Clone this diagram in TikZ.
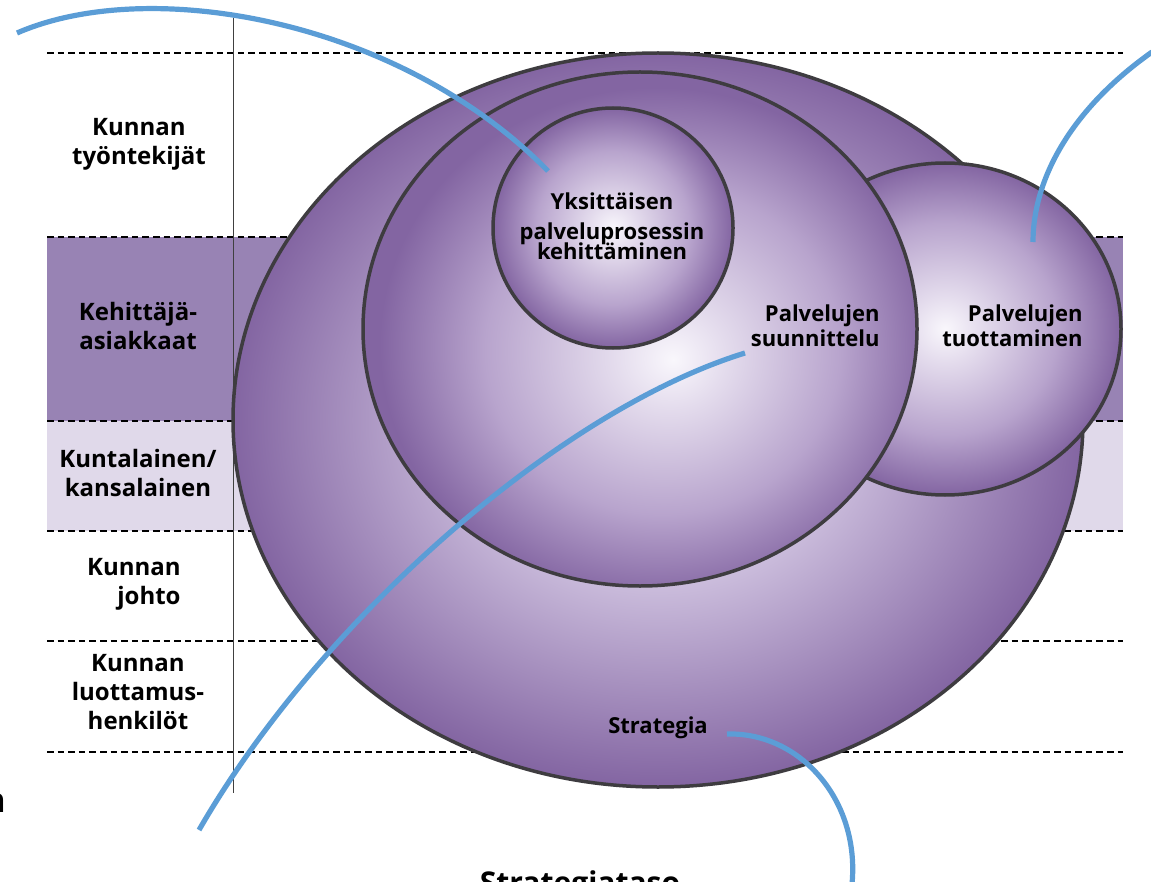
\documentclass[tikz,border=0pt]{standalone}
\usepackage{fontspec}
\setsansfont{Open Sans}
\usepackage{tikz}

\definecolor{plumedge}{RGB}{131,101,162}
\definecolor{plumband}{RGB}{152,131,180}
\definecolor{lilacband}{RGB}{224,217,234}
\definecolor{lilacsoft}{RGB}{204,190,221}
\definecolor{lilacmid}{RGB}{184,164,205}
\definecolor{lilacpale}{RGB}{228,220,237}
\definecolor{lilacwhite}{RGB}{249,247,252}
\definecolor{rim}{RGB}{62,60,64}
\definecolor{callout}{RGB}{91,157,214}

% soft purple fills for the rings
\pgfdeclareradialshading{bigglow}{\pgfpoint{0bp}{0bp}}{%
  color(0bp)=(lilacsoft); color(11bp)=(lilacsoft); color(25bp)=(plumedge); color(50bp)=(plumedge)}
\pgfdeclareradialshading{glow}{\pgfpoint{0bp}{0bp}}{%
  color(0bp)=(lilacwhite); color(5bp)=(lilacpale); color(16bp)=(lilacmid); color(25bp)=(plumedge); color(50bp)=(plumedge)}
\pgfdeclareradialshading{glowlow}{\pgfpoint{3bp}{-3bp}}{%
  color(0bp)=(lilacwhite); color(5bp)=(lilacpale); color(16bp)=(lilacmid); color(25bp)=(plumedge); color(50bp)=(plumedge)}

\begin{document}
\begin{tikzpicture}[x=0.5pt, y=0.5pt, yscale=-1,
    every node/.style={inner sep=0pt, font=\sffamily\bfseries},
    lane/.style={dash pattern=on 3.3pt off 2pt, line width=0.75pt},
    rim/.style={draw=rim, line width=1.75pt},
    callout/.style={draw=callout, line width=2.6pt},
    lanelabel/.style={align=center, font=\sffamily\bfseries\fontsize{12}{14.5}\selectfont},
    ringlabel/.style={align=right, font=\sffamily\bfseries\fontsize{11}{12.5}\selectfont}]
  \useasboundingbox (0,0) rectangle (1151,882);

  % Bands
  \fill[plumband] (47,237) rectangle (1123,421);
  \fill[lilacband] (47,421) rectangle (1123,531);
  \foreach \y in {53,237,421,531,641,752}
    \draw[lane] (47,\y) -- (1123,\y);
  \draw[line width=0.5pt, black!75] (233,18) -- (233,793);

  % Rings
  \path[rim, shading=bigglow] (658,420) ellipse [x radius=425, y radius=367];
  \path[rim, shading=glow] (945,329) ellipse [x radius=176, y radius=166];
  \path[rim, shading=glowlow] (640,329) ellipse [x radius=277, y radius=257];
  \path[rim, shading=glow] (613,228) circle [radius=120];

  % Band labels
  \node[lanelabel] (tyontekijat) at (139,144) {Kunnan\\työntekijät};
  \node[lanelabel] (kehittajat) at (138,326) {Kehittäjä-\\asiakkaat};
  \node[lanelabel] (kuntalainen) at (138,473) {Kuntalainen/\\kansalainen};
  \node[lanelabel, align=right, anchor=east] (johto) at (181,584) {Kunnan\\johto};
  \node[lanelabel] (luottamus) at (138,692) {Kunnan\\luottamus-\\henkilöt};

  % Ring labels
  \node[ringlabel, align=center] (yksittainen) at (612,226)
    {Yksittäisen\\[2.5pt] palveluprosessin\\[-2.5pt] kehittäminen};
  \node[ringlabel, anchor=east] (suunnittelu) at (880,326) {Palvelujen\\suunnittelu};
  \node[ringlabel, anchor=east] (tuottaminen) at (1083,326) {Palvelujen\\tuottaminen};
  \node[ringlabel] (strategia) at (658,728) {Strategia};

  \node[anchor=base, font=\sffamily\bfseries\fontsize{15}{18}\selectfont] (taso) at (580,893) {Strategiataso};
  \node[anchor=base west, font=\sffamily\bfseries\fontsize{17}{20}\selectfont] (reuna) at (-17,812) {n};

  % Callout curves
  \coordinate (yks-far) at (17,33);
  \coordinate (yks-tip) at (548,171);
  \coordinate (tuo-far) at (1152,52);
  \coordinate (tuo-tip) at (1033,242);
  \coordinate (suu-tip) at (745,353);
  \coordinate (suu-far) at (199,830);
  \coordinate (str-tip) at (727,734);
  \coordinate (str-far) at (852,884);
  \draw[callout] (yks-far) .. controls (150,-25) and (400,20) .. (yks-tip);
  \draw[callout] (tuo-far) .. controls (1070,110) and (1033,180) .. (tuo-tip);
  \draw[callout] (suu-tip) .. controls (560,410) and (320,620) .. (suu-far);
  \draw[callout] (str-tip) .. controls (800,732) and (860,800) .. (str-far);
\end{tikzpicture}
\end{document}
